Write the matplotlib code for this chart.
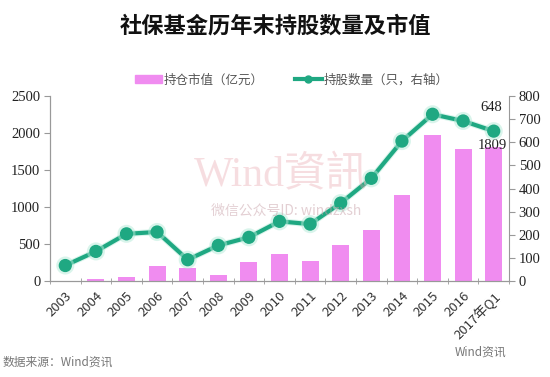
import numpy as np
import matplotlib
matplotlib.use('Agg')
import matplotlib.pyplot as plt
import matplotlib.patheffects as pe
from matplotlib.patches import Patch
from matplotlib.lines import Line2D

plt.rcParams['font.family'] = ['Noto Sans CJK SC', 'DejaVu Sans']

# data
years = ['2003', '2004', '2005', '2006', '2007', '2008', '2009', '2010',
         '2011', '2012', '2013', '2014', '2015', '2016', '2017年Q1']
market_value = [0, 25, 60, 206, 171, 85, 252, 368, 274, 481, 692, 1160, 1972, 1780, 1809]
holdings = [67, 128, 204, 212, 92, 154, 189, 258, 246, 337, 444, 605, 721, 692, 648]

bar_color = '#F08CF0'
line_color = '#1FA882'
grey = '#999999'

fig = plt.figure(figsize=(5.5, 3.77), dpi=100)
ax = fig.add_axes([0.0909, 0.2546, 0.8346, 0.4908])
ax2 = ax.twinx()

x = np.arange(len(years))
ax.bar(x, market_value, width=0.55, color=bar_color, zorder=2)
ax2.plot(x, holdings, color=line_color, lw=3, marker='o', ms=8.5, zorder=3,
         path_effects=[pe.Stroke(linewidth=4.5, foreground='#B5EBD9', alpha=0.5), pe.Normal()])

ax.set_xlim(-0.5, len(years) - 0.5)
ax.set_ylim(0, 2500)
ax2.set_ylim(0, 800)
ax.set_yticks(range(0, 2501, 500))
ax2.set_yticks(range(0, 801, 100))

serif = 'Liberation Serif'
for lbl in ax.get_yticklabels() + ax2.get_yticklabels():
    lbl.set_fontfamily(serif)
    lbl.set_fontsize(10.5)
    lbl.set_color('#222222')

ax.set_xticks(x)
ax.set_xticklabels(years, rotation=45, ha='right', rotation_mode='anchor',
                   fontsize=9.5, color='#333333')
ax.set_xticks(np.arange(-0.5, len(years), 1), minor=True)
ax.tick_params(axis='x', which='major', length=0, pad=6)
ax.tick_params(axis='x', which='minor', length=4, color=grey, direction='inout')
ax.tick_params(axis='y', length=4, color=grey, direction='out', pad=3)
ax2.tick_params(axis='y', length=4, color=grey, direction='out', pad=3)

for a in (ax, ax2):
    a.spines['top'].set_visible(False)
    for s in ('left', 'right', 'bottom'):
        a.spines[s].set_color(grey)
ax.spines['right'].set_visible(False)

# end labels
ax2.annotate(str(holdings[-1]), (x[-1], holdings[-1]), xytext=(-2, 12),
             textcoords='offset points', ha='center', va='bottom',
             fontsize=10.5, family=serif, color='#222222')
ax.text(x[-1] - 0.05, market_value[-1] + 25, str(market_value[-1]), ha='center', va='center',
        fontsize=10.5, family=serif, color='#222222', zorder=5)

# watermark
fig.text(0.51, 0.535, 'Wind資訊', ha='center', va='center', fontsize=30,
         family=['Liberation Serif', 'Noto Sans CJK TC'], color='#E8A0A8', alpha=0.35)
fig.text(0.52, 0.44, '微信公众号ID: windzxsh', ha='center', va='center', fontsize=10,
         color='#C8A0A8', alpha=0.5)

fig.text(0.5, 0.93, '社保基金历年末持股数量及市值', ha='center', va='center',
         fontsize=16, fontweight='bold', color='#111111')

# legend
handles = [Patch(color=bar_color),
           Line2D([0], [0], color=line_color, lw=3, marker='o', ms=5)]
fig.legend(handles, ['持仓市值（亿元）', '持股数量（只，右轴）'], loc='center',
           bbox_to_anchor=(0.53, 0.788), ncol=2, frameon=False, fontsize=9,
           labelcolor='#555555', handlelength=2.2, handletextpad=0.1, columnspacing=2.5)

fig.text(0.005, 0.04, '数据来源：Wind资讯', ha='left', va='center', fontsize=8.5, color='#777777')
fig.text(0.92, 0.065, 'Wind资讯', ha='right', va='center', fontsize=8.5, color='#777777')

fig.savefig('out.png', dpi=100)
